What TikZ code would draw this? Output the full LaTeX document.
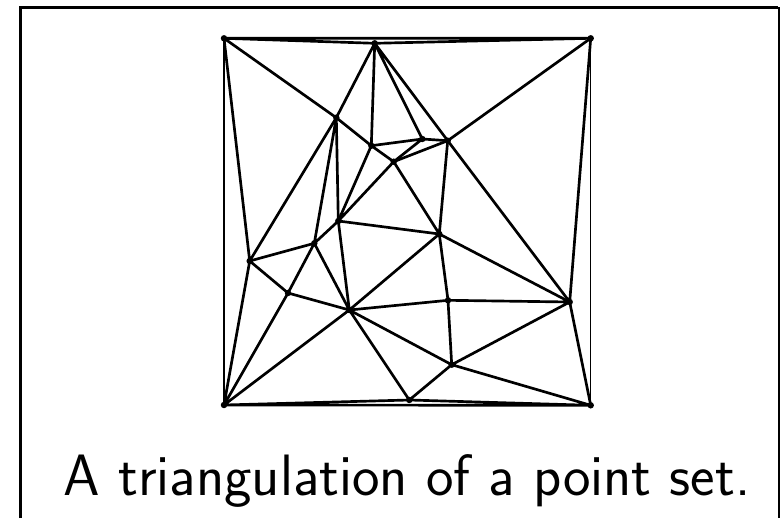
\documentclass[tikz,border=0pt]{standalone}
\usetikzlibrary{calc}

\begin{document}
\begin{tikzpicture}[
  x=0.025cm, y=-0.025cm,
  every node/.style={font=\sffamily},
  edge/.style={draw=black, line width=1.9pt, line join=round, line cap=round},
  hull/.style={draw=black, line width=0.9pt},
  frame/.style={draw=black, line width=2.1pt}
]
  \useasboundingbox (0,0) rectangle (780,518);

  % outer frame of the slide
  \draw[frame] (20.5,518) -- (20.5,7.5) -- (778,7.5);
  \draw[line width=0.9pt] (779,7.5) -- (779,518);

  % point set
  \coordinate (TL) at (224,38.3);
  \coordinate (T)  at (374.7,43.3);
  \coordinate (TR) at (590.7,38.3);
  \coordinate (A)  at (336.3,117.7);
  \coordinate (C)  at (371.3,145.7);
  \coordinate (D)  at (422.3,139);
  \coordinate (E)  at (447.7,140.7);
  \coordinate (F)  at (393.7,161.7);
  \coordinate (G)  at (338.3,221);
  \coordinate (H)  at (439.3,234);
  \coordinate (I)  at (314.3,243.3);
  \coordinate (J)  at (249.7,261);
  \coordinate (K)  at (288,293);
  \coordinate (L)  at (349.3,310);
  \coordinate (M)  at (448,300.3);
  \coordinate (N)  at (569.7,302);
  \coordinate (O)  at (451.7,364.7);
  \coordinate (BL) at (224,405);
  \coordinate (B)  at (409.3,400);
  \coordinate (BR) at (590.7,405.3);

  % triangulation
  \draw[hull] (TL) -- (BL);
  \draw[hull] (TR) -- (BR);
  \draw[edge] (TL) -- (TR) -- (T) -- (TL) -- (A) -- (T) -- (C) -- (A) -- (J) -- (TL);
  \draw[edge] (T) -- (D) -- (C) -- (F) -- (D) -- (E) -- (T);
  \draw[edge] (TR) -- (E) -- (F) -- (G) -- (C);
  \draw[edge] (A) -- (G) -- (I) -- (A);
  \draw[edge] (E) -- (H) -- (F);
  \draw[edge] (E) -- (N) -- (TR);
  \draw[edge] (G) -- (H) -- (L) -- (G);
  \draw[edge] (I) -- (J) -- (K) -- (I) -- (L) -- (K) -- (BL) -- (J);
  \draw[edge] (BL) -- (L) -- (B) -- (BL) -- (BR) -- (B) -- (O) -- (BR)
    -- (N) -- (O) -- (L) -- (M) -- (H) -- (N) -- (M) -- (O);

  \foreach \p in {TL,T,TR,A,C,D,E,F,G,H,I,J,K,L,M,N,O,BL,B,BR}
    \fill (\p) circle (2.3pt);

  \node[font=\fontsize{41.5}{48}\selectfont\sffamily, anchor=base] (caption)
    at (407,495) {A triangulation of a point set.};
\end{tikzpicture}
\end{document}
